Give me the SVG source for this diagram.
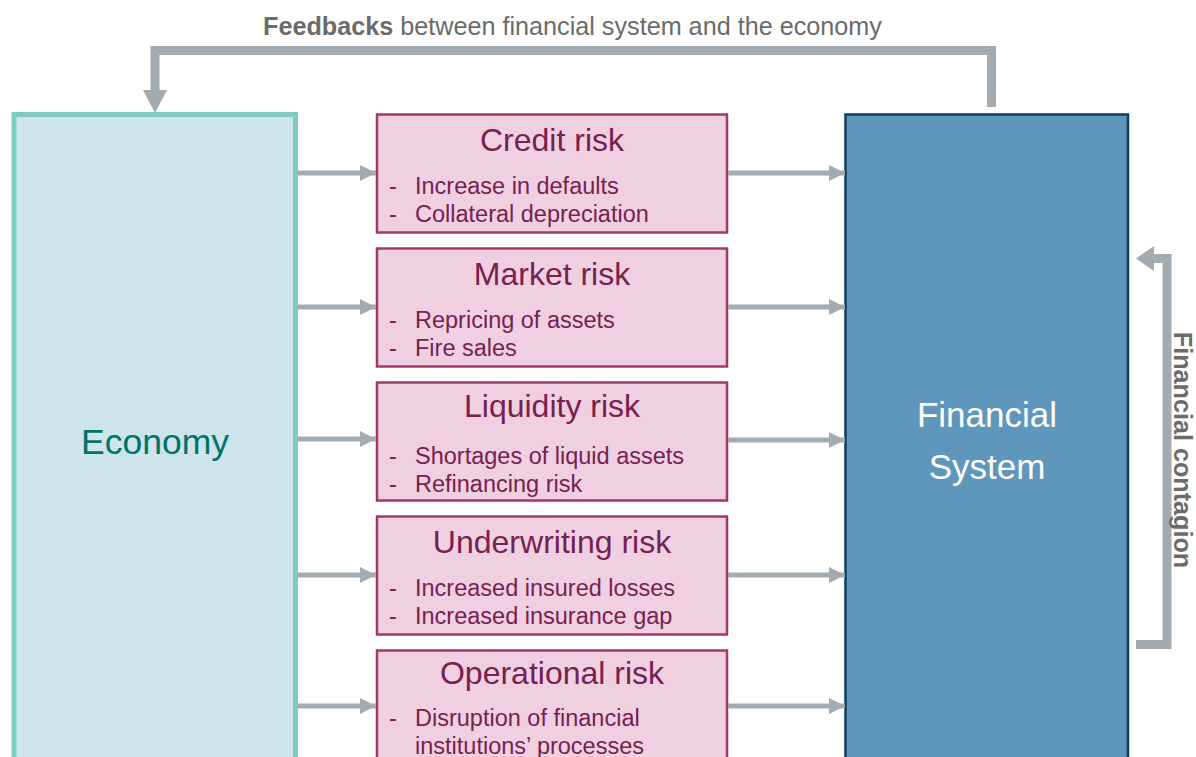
<svg xmlns="http://www.w3.org/2000/svg" width="1196" height="757" viewBox="0 0 1196 757">
<style>
.risk{fill:#f0d0e0;stroke:#a0386b;stroke-width:2.5}
.ttl{font-family:"Liberation Sans",Arial,sans-serif;font-size:32px;fill:#78204f;text-anchor:middle}
.bul{font-family:"Liberation Sans",Arial,sans-serif;font-size:23.5px;fill:#78204f}
.conn{fill:none;stroke:#a2abb1;stroke-width:5}
.big{fill:none;stroke:#a2abb1;stroke-width:9}
.lbl{font-family:"Liberation Sans",Arial,sans-serif;font-size:25.2px;fill:#6b6b6b}
</style>
<defs>
<marker id="ah" markerUnits="userSpaceOnUse" markerWidth="16" markerHeight="16" refX="16" refY="8" orient="auto">
<path d="M0,0 L16,8 L0,16 Z" fill="#a2abb1"/>
</marker>
</defs>
<rect width="1196" height="757" fill="#ffffff"/>
<g id="economy">
<rect x="14" y="114.5" width="281.5" height="700" fill="#cde5ea" stroke="#80cbbf" stroke-width="5"/>
<text x="155" y="454" font-family="'Liberation Sans',Arial,sans-serif" font-size="35.5" fill="#00736b" text-anchor="middle">Economy</text>
</g>
<g id="financial-system">
<rect x="845.5" y="114.5" width="282.5" height="700" fill="#5e97bb" stroke="#0e3d5f" stroke-width="2.5"/>
<text x="987" y="427" font-family="'Liberation Sans',Arial,sans-serif" font-size="35" fill="#ffffff" text-anchor="middle">Financial</text>
<text x="987" y="479" font-family="'Liberation Sans',Arial,sans-serif" font-size="35" fill="#ffffff" text-anchor="middle">System</text>
</g>
<g id="credit-risk">
<rect class="risk" x="377" y="114.5" width="350" height="118"/>
<text class="ttl" x="552" y="151">Credit risk</text>
<text class="bul" x="389" y="194">-</text><text class="bul" x="415" y="194">Increase in defaults</text>
<text class="bul" x="389" y="222">-</text><text class="bul" x="415" y="222">Collateral depreciation</text>
</g>
<g id="market-risk">
<rect class="risk" x="377" y="248.5" width="350" height="118"/>
<text class="ttl" x="552" y="285">Market risk</text>
<text class="bul" x="389" y="328">-</text><text class="bul" x="415" y="328">Repricing of assets</text>
<text class="bul" x="389" y="356">-</text><text class="bul" x="415" y="356">Fire sales</text>
</g>
<g id="liquidity-risk">
<rect class="risk" x="377" y="382.5" width="350" height="118"/>
<text class="ttl" x="552" y="417">Liquidity risk</text>
<text class="bul" x="389" y="464">-</text><text class="bul" x="415" y="464">Shortages of liquid assets</text>
<text class="bul" x="389" y="492">-</text><text class="bul" x="415" y="492">Refinancing risk</text>
</g>
<g id="underwriting-risk">
<rect class="risk" x="377" y="516.5" width="350" height="118"/>
<text class="ttl" x="552" y="553">Underwriting risk</text>
<text class="bul" x="389" y="596">-</text><text class="bul" x="415" y="596">Increased insured losses</text>
<text class="bul" x="389" y="624">-</text><text class="bul" x="415" y="624">Increased insurance gap</text>
</g>
<g id="operational-risk">
<rect class="risk" x="377" y="650.5" width="350" height="140"/>
<text class="ttl" x="552" y="684">Operational risk</text>
<text class="bul" x="389" y="726">-</text><text class="bul" x="415" y="726">Disruption of financial</text>
<text class="bul" x="415" y="754">institutions’ processes</text>
</g>
<g id="connectors">
<line class="conn" x1="298" y1="173" x2="376" y2="173" marker-end="url(#ah)"/>
<line class="conn" x1="298" y1="307" x2="376" y2="307" marker-end="url(#ah)"/>
<line class="conn" x1="298" y1="439" x2="376" y2="439" marker-end="url(#ah)"/>
<line class="conn" x1="298" y1="575" x2="376" y2="575" marker-end="url(#ah)"/>
<line class="conn" x1="298" y1="706" x2="376" y2="706" marker-end="url(#ah)"/>
<line class="conn" x1="728" y1="173" x2="845" y2="173" marker-end="url(#ah)"/>
<line class="conn" x1="728" y1="307" x2="845" y2="307" marker-end="url(#ah)"/>
<line class="conn" x1="728" y1="440" x2="845" y2="440" marker-end="url(#ah)"/>
<line class="conn" x1="728" y1="575" x2="845" y2="575" marker-end="url(#ah)"/>
<line class="conn" x1="728" y1="706" x2="845" y2="706" marker-end="url(#ah)"/>
<path class="big" d="M991.5,107 V50.5 H155 V92"/>
<polygon points="143,90 167,90 155,113" fill="#a2abb1"/>
<path class="big" d="M1136,644.5 H1167 V258.5 H1152"/>
<polygon points="1154,246 1154,271 1136,258.5" fill="#a2abb1"/>
</g>
<g id="labels">
<text class="lbl" x="263" y="35"><tspan font-weight="bold">Feedbacks</tspan> between financial system and the economy</text>
<text class="lbl" x="0" y="0" font-weight="bold" text-anchor="middle" transform="translate(1174,450) rotate(90)">Financial contagion</text>
</g>
</svg>
